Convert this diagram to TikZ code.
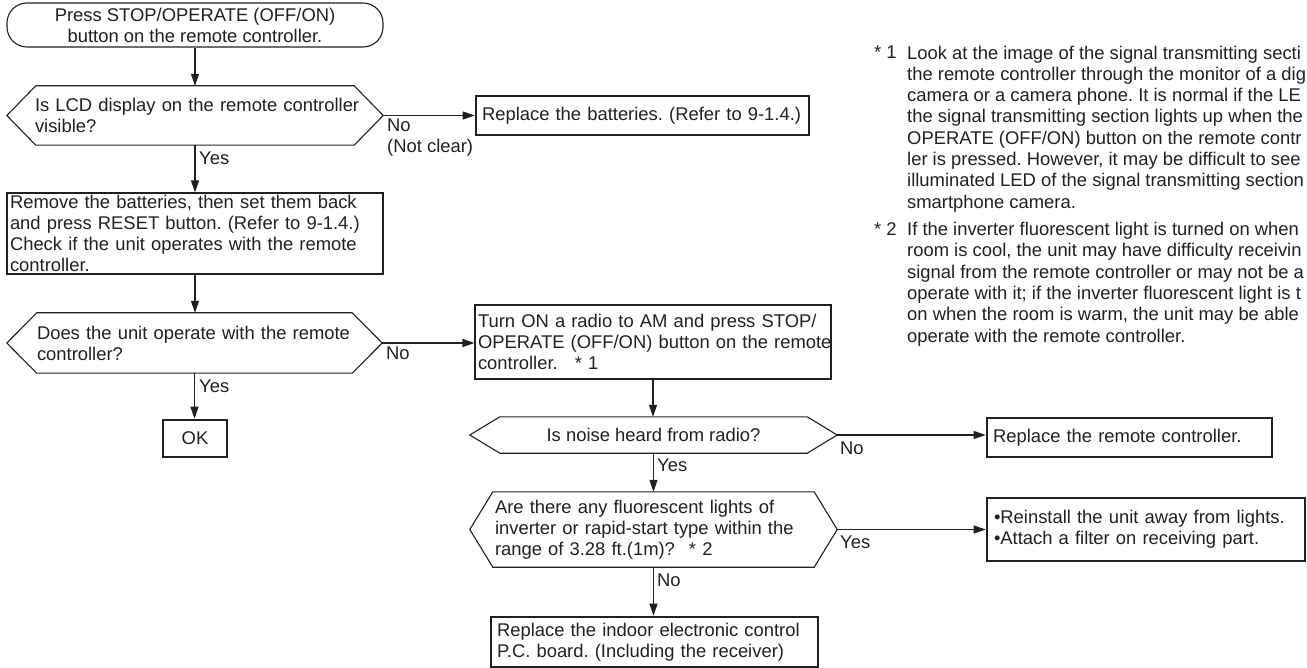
\documentclass[tikz,border=0pt]{standalone}
\usepackage{fontspec}
\setmainfont{Liberation Sans}
\usetikzlibrary{arrows.meta}
\definecolor{ink}{RGB}{35,31,32}
\frenchspacing
\tikzset{
  every node/.style={font=\fontsize{18.4}{21}\selectfont, text=ink},
  thinbox/.style={draw=ink, line width=1.1pt, rectangle, inner ysep=0pt, align=left},
  thickbox/.style={draw=ink, line width=2.6pt, rectangle, inner ysep=0pt, align=left},
  hexnode/.style={rectangle, inner ysep=0pt, align=left},
  hexline/.style={draw=ink, line width=1.1pt, line join=miter},
  lbl/.style={anchor=west, inner sep=0pt, align=left},
  note/.style={anchor=north west, inner sep=0pt, align=left, font=\fontsize{18.4}{21.3}\selectfont},
  arr/.style={draw=ink, line width=1.1pt, -{Triangle[length=12pt,width=8pt]}},
}
\newcommand\hexframe[2]{\draw[hexline] (#1.west) -- ([xshift=#2]#1.north west) -- ([xshift=-#2]#1.north east) -- (#1.east) -- ([xshift=-#2]#1.south east) -- ([xshift=#2]#1.south west) -- cycle;}
\begin{document}
\begin{tikzpicture}[x=1pt,y=-1pt]
\useasboundingbox (0,0) rectangle (1307,668);
\clip (0,0) rectangle (1307,668);

% left column
\node[thinbox, rounded corners=20pt, align=center, minimum width=376pt, minimum height=44pt] (start) at (195,25) {Press STOP/OPERATE (OFF/ON)\\button on the remote controller.};
\node[hexnode, minimum width=376pt, minimum height=59pt, inner xsep=28pt, text width=320pt] (d1) at (195,115.5) {\mbox{Is LCD display on the remote controller}\\visible?};
\hexframe{d1}{29pt}
\node[thickbox, minimum height=39pt, inner xsep=6pt, text width=321pt] (bat) at (642.5,115.5) {\mbox{Replace the batteries. (Refer to 9-1.4.)}};
\node[thinbox, minimum height=81pt, inner xsep=3pt, text width=370pt] (rem) at (195,233.5) {\mbox{Remove the batteries, then set them back}\\\mbox{and press RESET button. (Refer to 9-1.4.)}\\\mbox{Check if the unit operates with the remote}\\controller.};
\node[hexnode, minimum width=375pt, minimum height=60pt, inner xsep=30pt, text width=315pt] (d2) at (194.5,343) {\mbox{Does the unit operate with the remote}\\controller?};
\hexframe{d2}{30pt}
\node[thickbox, align=center, minimum width=64pt, minimum height=37pt] (ok) at (195,438.5) {OK};

% right column
\node[thinbox, minimum height=74pt, inner xsep=3pt, text width=350pt] (turn) at (653,342) {\mbox{Turn ON a radio to AM and press STOP/}\\\mbox{OPERATE (OFF/ON) button on the remote}\\controller.\hspace{17pt}* 1};
\node[hexnode, align=center, minimum width=367pt, minimum height=36pt] (d3) at (653.5,435) {Is noise heard from radio?};
\hexframe{d3}{30pt}
\node[thickbox, minimum height=39pt, inner xsep=6pt, text width=273pt] (rc) at (1129.5,437.5) {\mbox{Replace the remote controller.}};
\node[hexnode, minimum width=367pt, minimum height=75pt, inner xsep=25pt, text width=317pt] (d4) at (653.5,529.5) {\mbox{Are there any fluorescent lights of}\\\mbox{inverter or rapid-start type within the}\\\mbox{range of 3.28 ft.(1m)?\hspace{14pt}* 2}};
\hexframe{d4}{23pt}
\node[thickbox, minimum height=63pt, inner xsep=7pt, text width=304pt] (rein) at (1146,529.5) {\mbox{•Reinstall the unit away from lights.}\\\mbox{•Attach a filter on receiving part.}};
\node[thickbox, minimum height=50pt, inner xsep=6pt, text width=315pt] (fin) at (654.5,642) {\mbox{Replace the indoor electronic control}\\\mbox{P.C. board. (Including the receiver)}};

% connectors
\draw[arr] (start.south) -- (d1.north);
\draw[arr] (d1.east) -- (d1.east -| bat.west);
\draw[arr] (d1.south) -- (rem.north);
\draw[arr] (rem.south) -- (rem.south |- d2.north);
\draw[arr] (d2.east) -- (d2.east -| turn.west);
\draw[arr] (d2.south) -- (d2.south |- ok.north);
\draw[arr] (turn.south) -- (turn.south |- d3.north);
\draw[arr] (d3.east) -- (d3.east -| rc.west);
\draw[arr] (d3.south) -- (d3.south |- d4.north);
\draw[arr] (d4.east) -- (d4.east -| rein.west);
\draw[arr] (d4.south) -- (d4.south |- fin.north);

% labels
\node[lbl] (l1) at (387,137.5) {No\\(Not clear)};
\node[lbl] (l2) at (199,158) {Yes};
\node[lbl] (l3) at (386,353) {No};
\node[lbl] (l4) at (199,386) {Yes};
\node[lbl] (l5) at (840,448) {No};
\node[lbl] (l6) at (657,465) {Yes};
\node[lbl] (l7) at (840,542) {Yes};
\node[lbl] (l8) at (657,580) {No};

% notes
\node[note] (n1m) at (874,45.5) {* 1};
\node[note] (n1) at (907,45.5) {Look at the image of the signal transmitting secti\\the remote controller through the monitor of a dig\\camera or a camera phone. It is normal if the LE\\the signal transmitting section lights up when the\\OPERATE (OFF/ON) button on the remote contr\\ler is pressed. However, it may be difficult to see\\illuminated LED of the signal transmitting section\\smartphone camera.};
\node[note] (n2m) at (874,222) {* 2};
\node[note] (n2) at (907,222) {If the inverter fluorescent light is turned on when\\room is cool, the unit may have difficulty receivin\\signal from the remote controller or may not be a\\operate with it; if the inverter fluorescent light is t\\on when the room is warm, the unit may be able\\operate with the remote controller.};
\end{tikzpicture}
\end{document}
